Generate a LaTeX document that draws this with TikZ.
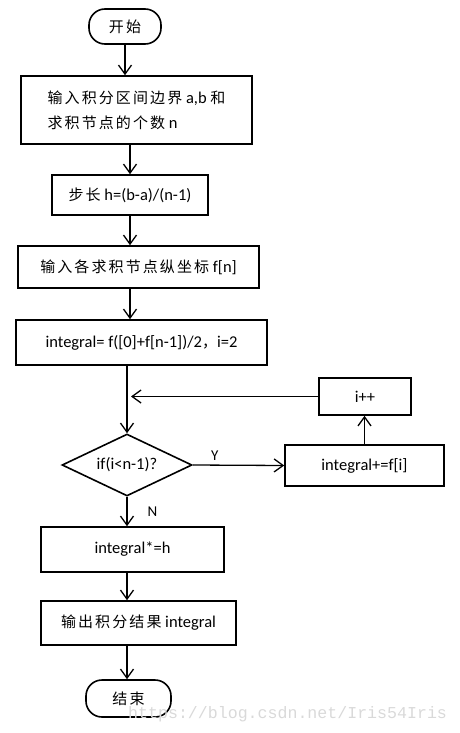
\documentclass[tikz,border=0pt]{standalone}
\usepackage{fontspec}
\setmainfont{Carlito}
\newfontfamily\cjk[LetterSpace=14]{Noto Sans CJK SC}
\newfontfamily\wmfont{Liberation Mono}
\usetikzlibrary{shapes.geometric,arrows.meta}
\newcommand\zhtext[1]{{\fontsize{15}{25}\cjk #1}}

\tikzset{
  box/.style={draw, line width=1.6pt, inner sep=0pt, font=\fontsize{16.5}{25}\selectfont},
  term/.style={box, rounded corners=16pt},
  decide/.style={diamond, draw, line width=1.6pt, inner sep=0pt, aspect=2.1,
    minimum width=130pt, minimum height=62pt, font=\fontsize{16.5}{25}\selectfont},
  flow/.style={line width=1.3pt, -{Straight Barb[length=9pt,width=13pt]}},
  tag/.style={inner sep=0pt, font=\fontsize{15}{18}\selectfont}
}

\begin{document}
\begin{tikzpicture}[x=1pt, y=-1pt]
  \useasboundingbox (0,0) rectangle (459,733);

  %%main column
  \node[term, minimum width=72pt, minimum height=35pt] (start) at (125,26.5) {\zhtext{开始}};
  \node[box, minimum width=231pt, minimum height=68pt, align=left] (bounds) at (136.5,110)
    {\zhtext{输入积分区间边界} a,b \zhtext{和}\\\zhtext{求积节点的个数} n};
  \node[box, minimum width=156pt, minimum height=40pt] (step) at (130,195) {\zhtext{步长} h=(b-a)/(n-1)};
  \node[box, minimum width=241pt, minimum height=42pt] (fvals) at (138.5,267) {\zhtext{输入各求积节点纵坐标} f[n]};
  \node[box, minimum width=251pt, minimum height=45pt] (init) at (141.5,342.5)
    {integral= f([0]+f[n-1])/2\zhtext{，}i=2};

  %%loop
  \node[decide] (test) at (127,465) {if(i<n-1)?};
  \node[box, minimum width=159pt, minimum height=41pt] (acc) at (364.5,465.5) {integral+=f[i]};
  \node[box, minimum width=92pt, minimum height=37pt] (inc) at (365,396.5) {i++};

  %%end
  \node[box, minimum width=183pt, minimum height=45pt] (scale) at (132.5,549.5) {integral*=h};
  \node[box, minimum width=195pt, minimum height=44pt] (output) at (138.5,623) {\zhtext{输出积分结果} integral};
  \node[term, minimum width=85pt, minimum height=37pt] (stop) at (128.5,698.5) {\zhtext{结束}};

  \draw[flow] (start.south) -- (start.south |- bounds.north);
  \draw[flow] (step.north |- bounds.south) -- (step.north);
  \draw[flow] (step.south) -- (step.south |- fvals.north);
  \draw[flow] (step.south |- fvals.south) -- (step.south |- init.north);
  \draw[flow] (test.north |- init.south) -- (test.north);

  \draw[flow] (inc.west) -- ([xshift=4pt]inc.west -| test.north);
  \draw[flow] (test.east) -- node[tag, above=4pt, pos=0.24] {Y} (acc.west);
  \draw[flow] (acc.north) -- (acc.north |- inc.south);

  \draw[flow] (test.south) -- node[tag, right=20pt] {N} (test.south |- scale.north);
  \draw[flow] (test.south |- scale.south) -- (test.south |- output.north);
  \draw[flow] (test.south |- output.south) -- (test.south |- stop.north);

  %%watermark
  \node[anchor=base west, inner sep=0pt, text=black!15, font=\wmfont\fontsize{16.6}{17}\selectfont]
    (mark) at (128,718) {https://blog.csdn.net/Iris54Iris};
\end{tikzpicture}
\end{document}
